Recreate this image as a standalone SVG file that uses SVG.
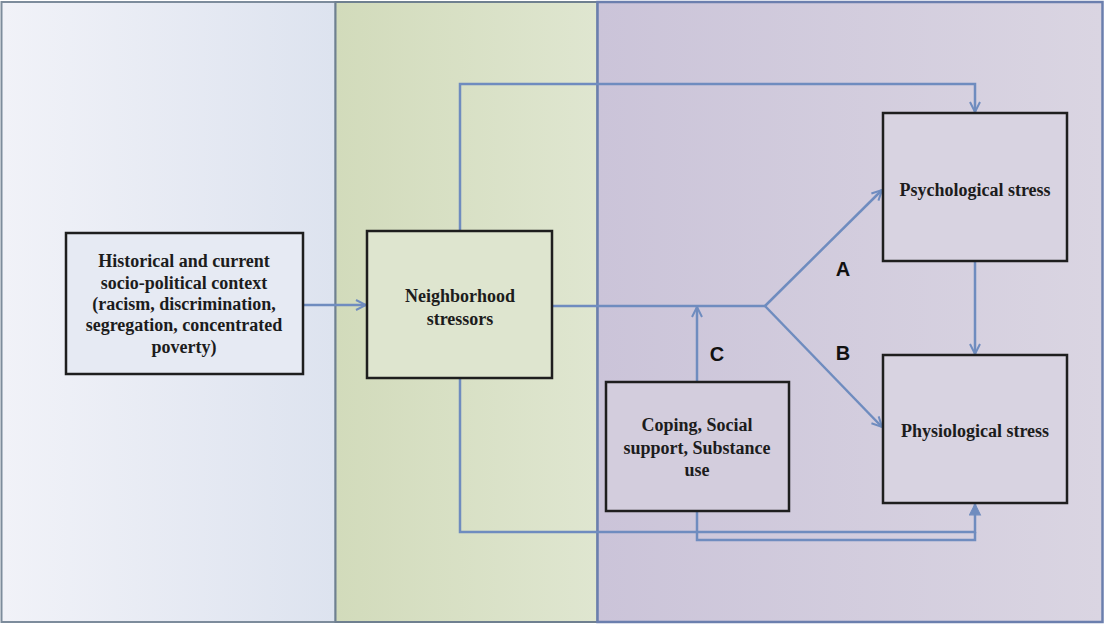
<svg xmlns="http://www.w3.org/2000/svg" width="1105" height="626" viewBox="0 0 1105 626">
<defs>
<linearGradient id="gBlue" x1="0" y1="0" x2="1" y2="0"><stop offset="0" stop-color="#f1f2f8"/><stop offset="1" stop-color="#dde3ef"/></linearGradient>
<linearGradient id="gGreen" x1="0" y1="0" x2="1" y2="0"><stop offset="0" stop-color="#d2dbbb"/><stop offset="1" stop-color="#dfe6d0"/></linearGradient>
<linearGradient id="gPurple" x1="0" y1="0" x2="1" y2="0"><stop offset="0" stop-color="#cbc4d9"/><stop offset="1" stop-color="#dad5e2"/></linearGradient>
<marker id="arr" viewBox="0 0 12 12" refX="11" refY="6" markerWidth="12" markerHeight="12" markerUnits="userSpaceOnUse" orient="auto">
<path d="M1,1 L11,6 L1,11" fill="none" stroke="#6f8cbf" stroke-width="2"/>
</marker>
<marker id="arrF" viewBox="0 0 12 12" refX="11" refY="6" markerWidth="13" markerHeight="13" markerUnits="userSpaceOnUse" orient="auto">
<path d="M1,1 L11,6 L1,11 Z" fill="#6f8cbf" stroke="#6f8cbf" stroke-width="1"/>
</marker>
</defs>
<style>
.node rect{stroke:#1e1e1e;stroke-width:2.5}
.t{font-family:'Liberation Serif','Times New Roman','DejaVu Serif',serif;font-weight:bold;font-size:18px;fill:#1c1c1c;text-anchor:middle}
.ts{font-family:'Liberation Serif','Times New Roman','DejaVu Serif',serif;font-weight:bold;font-size:18px;fill:#1c1c1c;text-anchor:middle}
.lab{font-family:'Liberation Sans',Arial,sans-serif;font-weight:bold;font-size:20px;fill:#111;text-anchor:middle}
.c{fill:none;stroke:#6f8cbf;stroke-width:2.5}
</style>
<rect x="0" y="0" width="1105" height="626" fill="#ffffff"/>
<g id="panels">
<rect x="1.5" y="2" width="334" height="620" fill="url(#gBlue)" stroke="#7d8c9c" stroke-width="2"/>
<rect x="335.5" y="2" width="262" height="620" fill="url(#gGreen)" stroke="#6f8090" stroke-width="2"/>
<rect x="597.5" y="2" width="505" height="620" fill="url(#gPurple)" stroke="#6b7fae" stroke-width="2.5"/>
</g>
<g id="connectors">
<line class="c" x1="303" y1="305" x2="366" y2="305" marker-end="url(#arr)"/>
<polyline class="c" points="460,231 460,84 975,84 975,112" marker-end="url(#arr)"/>
<polyline class="c" points="552,306 765,306"/>
<line class="c" x1="765" y1="306" x2="882" y2="190" marker-end="url(#arr)"/>
<line class="c" x1="765" y1="306" x2="882" y2="427" marker-end="url(#arr)"/>
<line class="c" x1="697" y1="382" x2="697" y2="307" marker-end="url(#arr)"/>
<polyline class="c" points="460,378 460,532 975,532 975,504" marker-end="url(#arrF)"/>
<polyline class="c" points="697,511 697,540 975,540 975,532"/>
<line class="c" x1="975" y1="261" x2="975" y2="354" marker-end="url(#arr)"/>
<text class="lab" x="843" y="276">A</text>
<text class="lab" x="843" y="360">B</text>
<text class="lab" x="717" y="361">C</text>
</g>
<g id="historical" class="node">
<rect x="66" y="233" width="237" height="141" fill="#e6eaf3"/>
<text class="t" x="184" y="267">Historical and current</text>
<text class="t" x="184" y="289">socio-political context</text>
<text class="t" x="184" y="310">(racism, discrimination,</text>
<text class="t" x="184" y="331">segregation, concentrated</text>
<text class="t" x="184" y="353">poverty)</text>
</g>
<g id="neighborhood" class="node">
<rect x="367" y="231" width="185" height="147" fill="#dee5cf"/>
<text class="t" x="460" y="302">Neighborhood</text>
<text class="t" x="460" y="325">stressors</text>
</g>
<g id="coping" class="node">
<rect x="606" y="382" width="183" height="129" fill="#d3cddd"/>
<text class="t" x="697" y="431">Coping, Social</text>
<text class="t" x="697" y="454">support, Substance</text>
<text class="t" x="697" y="476">use</text>
</g>
<g id="psychological" class="node">
<rect x="883" y="113" width="184" height="148" fill="#d8d3e1"/>
<text class="ts" x="975" y="196">Psychological stress</text>
</g>
<g id="physiological" class="node">
<rect x="883" y="355" width="184" height="148" fill="#d8d3e1"/>
<text class="ts" x="975" y="437">Physiological stress</text>
</g>
</svg>
